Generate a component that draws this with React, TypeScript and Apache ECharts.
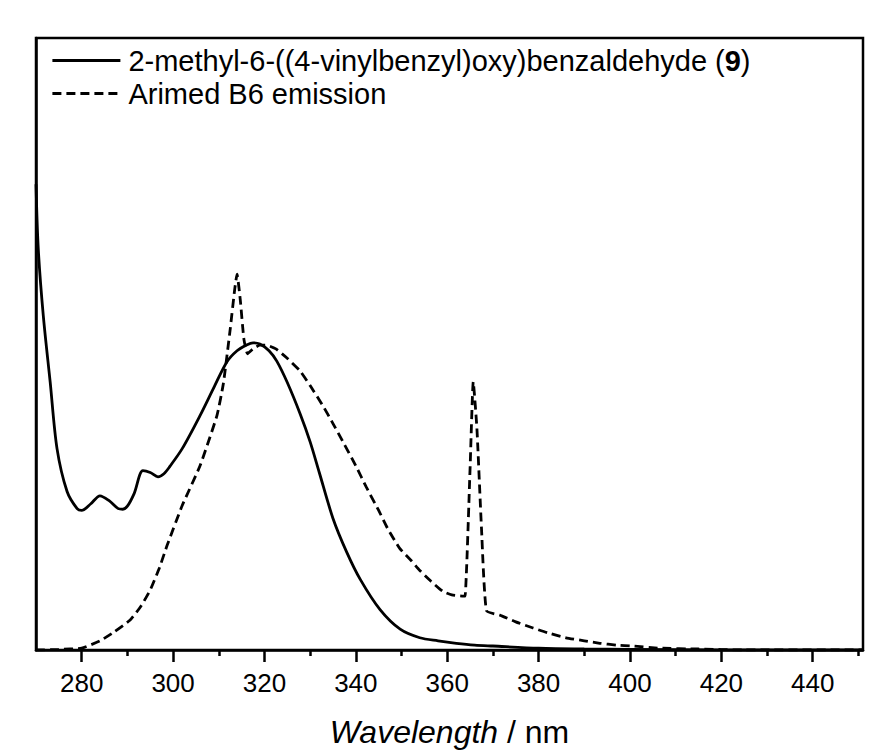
import React, { useEffect, useRef } from "react";
import * as echarts from "echarts";

// Absorbance of compound 9 (normalized)
const absWavelength = [270, 270.5, 271.6, 273.1, 274.6, 276.8, 279, 280, 282, 284, 286, 288, 289, 290, 291.5, 293.4, 295, 296.7, 298, 299.3, 302, 305.9, 309, 311.8, 314, 316, 317.5, 319, 321, 322.7, 325, 327.8, 330, 332, 335, 338, 341, 345.3, 349.7, 354, 358, 362, 366, 370, 380, 390, 400, 420, 451];
const absValue = [0.761, 0.655, 0.546, 0.438, 0.329, 0.259, 0.231, 0.228, 0.239, 0.252, 0.244, 0.231, 0.23, 0.235, 0.256, 0.293, 0.29, 0.283, 0.288, 0.3, 0.329, 0.383, 0.43, 0.471, 0.489, 0.498, 0.502, 0.5, 0.489, 0.472, 0.437, 0.386, 0.34, 0.29, 0.215, 0.16, 0.115, 0.066, 0.034, 0.02, 0.015, 0.011, 0.008, 0.0065, 0.003, 0.0016, 0.001, 0, 0];

// Arimed B6 emission (normalized)
const emWavelength = [270, 275, 280, 284, 287, 290.6, 293, 295, 297, 298.7, 302, 305.9, 309.6, 311, 312.5, 313.5, 314, 314.7, 315.5, 316.3, 317.5, 319, 320.5, 322.5, 324.8, 327.8, 330, 332.8, 335, 337.2, 340, 342.3, 345, 347, 349.6, 352, 354, 356.5, 359, 361, 363.5, 363.9, 365, 365.7, 366.5, 367.5, 368.6, 371.5, 375, 378.8, 382, 386, 390, 393.4, 397, 400.6, 406.5, 415, 425, 451];
const emValue = [0, 0.001, 0.003, 0.015, 0.029, 0.049, 0.072, 0.098, 0.134, 0.171, 0.236, 0.301, 0.383, 0.435, 0.524, 0.59, 0.614, 0.573, 0.508, 0.484, 0.492, 0.498, 0.498, 0.492, 0.478, 0.456, 0.432, 0.399, 0.37, 0.34, 0.301, 0.266, 0.228, 0.198, 0.166, 0.147, 0.13, 0.112, 0.096, 0.09, 0.088, 0.088, 0.296, 0.438, 0.362, 0.199, 0.064, 0.057, 0.046, 0.036, 0.028, 0.02, 0.015, 0.011, 0.008, 0.0065, 0.003, 0.0016, 0, 0];

const majorTicks = [280, 300, 320, 340, 360, 380, 400, 420, 440];
const minorTicks = [290, 310, 330, 350, 370, 390, 410, 430, 450];

const seriesNames = ["2-methyl-6-((4-vinylbenzyl)oxy)benzaldehyde (9)", "Arimed B6 emission"];

const FONT = "Liberation Sans, Arial, sans-serif";

export default function App() {
  const ref = useRef<HTMLDivElement>(null);
  useEffect(() => {
    document.body.style.margin = "0";
    const chart = echarts.init(ref.current!, null, { renderer: "svg" });
    const zip = (xs: number[], ys: number[]) => xs.map((x, i) => [x, ys[i]]);
    chart.setOption({
      animation: false,
      backgroundColor: "#ffffff",
      textStyle: { fontFamily: FONT, color: "#000" },
      grid: {
        left: 36,
        right: 10,
        top: 38,
        bottom: 101,
        show: true,
        borderColor: "#000",
        borderWidth: 2.5,
        backgroundColor: "transparent",
      },
      legend: {
        orient: "vertical",
        left: 51,
        top: 44,
        padding: 0,
        itemWidth: 68,
        itemHeight: 14,
        itemGap: 0,
        itemStyle: { opacity: 0 },
        lineStyle: { width: 2.8 },
        data: seriesNames,
        textStyle: {
          fontFamily: FONT,
          fontSize: 29,
          color: "#000",
          lineHeight: 33,
          padding: [0, 0, 0, 3],
          rich: {
            b: { fontFamily: FONT, fontSize: 29, fontWeight: "bold", color: "#000", lineHeight: 33 },
          },
        },
        formatter: (name: string) =>
          name === seriesNames[0] ? "2-methyl-6-((4-vinylbenzyl)oxy)benzaldehyde ({b|9})" : name,
      },
      xAxis: [
        {
          type: "value",
          min: 270,
          max: 451,
          name: "{i|Wavelength} / nm",
          nameLocation: "middle",
          nameGap: 66,
          nameTextStyle: {
            fontFamily: FONT,
            fontSize: 32,
            color: "#000",
            rich: { i: { fontFamily: FONT, fontSize: 32, fontStyle: "italic", color: "#000" } },
          },
          axisLine: { show: true, onZero: false, lineStyle: { color: "#000", width: 2.5 } },
          axisTick: { show: true, customValues: majorTicks, length: 12, lineStyle: { color: "#000", width: 2.5 } },
          axisLabel: { customValues: majorTicks, fontFamily: FONT, fontSize: 26, color: "#000", margin: 20 },
          splitLine: { show: false },
        },
        {
          type: "value",
          min: 270,
          max: 451,
          position: "bottom",
          axisLine: { show: false },
          axisTick: { show: true, customValues: minorTicks, length: 6, lineStyle: { color: "#000", width: 2.5 } },
          axisLabel: { show: false },
          splitLine: { show: false },
        },
      ],
      yAxis: {
        type: "value",
        min: 0,
        max: 1,
        axisLine: { show: true, lineStyle: { color: "#000", width: 2.5 } },
        axisTick: { show: false },
        axisLabel: { show: false },
        splitLine: { show: false },
      },
      series: [
        {
          name: seriesNames[0],
          type: "line",
          data: zip(absWavelength, absValue),
          symbol: "none",
          smooth: 0.3,
          lineStyle: { color: "#000", width: 2.8, type: "solid" },
          itemStyle: { color: "#000" },
          z: 3,
        },
        {
          name: seriesNames[1],
          type: "line",
          data: zip(emWavelength, emValue),
          symbol: "none",
          smooth: 0.15,
          lineStyle: { color: "#000", width: 2.8, type: [9, 5] },
          itemStyle: { color: "#000" },
          z: 2,
        },
      ],
    });
    return () => chart.dispose();
  }, []);
  return <div ref={ref} style={{ width: 873, height: 753 }} />;
}
